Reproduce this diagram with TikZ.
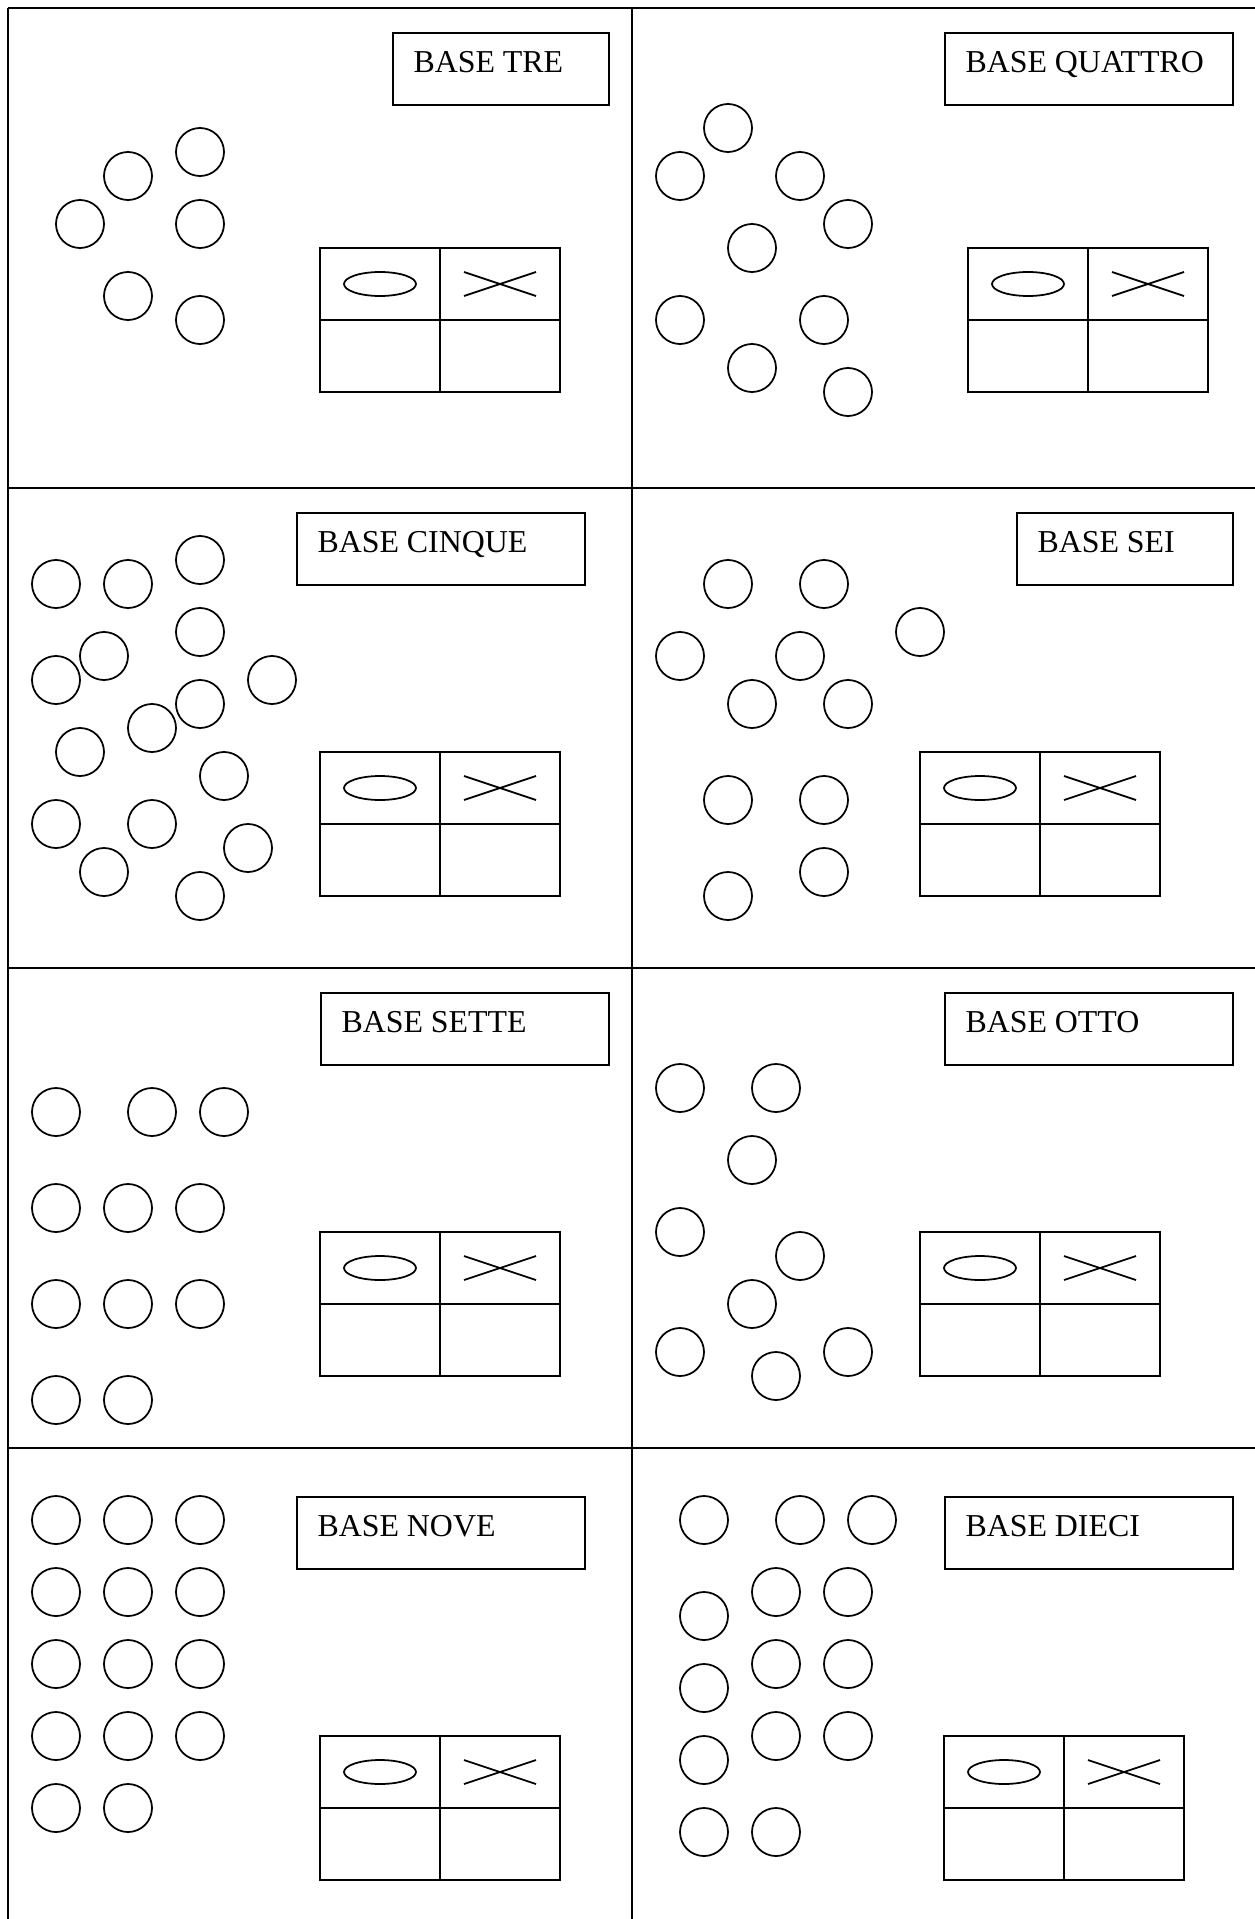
\documentclass[tikz,border=0pt]{standalone}
\usepackage{fontspec}
\setmainfont{Liberation Serif}
\usepackage{tikz}
\usetikzlibrary{positioning}
\tikzset{
    pallina/.style={draw, circle, minimum size=0.672cm, inner sep=0pt, line width=0.7pt}, % dischetto da contare
    riquadro/.style={draw, anchor=north west, minimum height=1.008cm, inner sep=0pt, line width=0.7pt},
    scritta/.style={anchor=base west, inner sep=0pt, font=\fontsize{12.7}{15}\selectfont},
    telaio/.style={line width=0.8pt},
    cella/.style={line width=0.7pt}
}

\begin{document}
\begin{tikzpicture}[x=0.336cm, y=-0.336cm]
    \useasboundingbox (-0.3333,-0.3333) rectangle (51.958,79.625);

    % tabella esterna
    \draw[telaio] (0,0) -- (52,0);
    \draw[telaio] (0,20) -- (52,20);
    \draw[telaio] (0,40) -- (52,40);
    \draw[telaio] (0,60) -- (52,60);
    \draw[telaio] (0,0) -- (0,80);
    \draw[telaio] (26,0) -- (26,80);

    % titoli
    \node (btre) [riquadro, minimum width=3.024cm] at (16,1) {};
    \node (bquattro) [riquadro, minimum width=4.032cm] at (39,1) {};
    \node (bcinque) [riquadro, minimum width=4.032cm] at (12,21) {};
    \node (bsei) [riquadro, minimum width=3.024cm] at (42,21) {};
    \node (bsette) [riquadro, minimum width=4.032cm] at (13,41) {};
    \node (botto) [riquadro, minimum width=4.032cm] at (39,41) {};
    \node (bnove) [riquadro, minimum width=4.032cm] at (12,62) {};
    \node (bdieci) [riquadro, minimum width=4.032cm] at (39,62) {};

    \node (ttre) [scritta] at (16.875,2.67) {BASE TRE};
    \node (tquattro) [scritta] at (39.875,2.67) {BASE QUATTRO};
    \node (tcinque) [scritta] at (12.875,22.67) {BASE CINQUE};
    \node (tsei) [scritta] at (42.875,22.67) {BASE SEI};
    \node (tsette) [scritta] at (13.875,42.67) {BASE SETTE};
    \node (totto) [scritta] at (39.875,42.67) {BASE OTTO};
    \node (tnove) [scritta] at (12.875,63.67) {BASE NOVE};
    \node (tdieci) [scritta] at (39.875,63.67) {BASE DIECI};

    % palline
    \foreach \x/\y [count=\i] in {5/7, 8/6, 3/9, 8/9, 5/12, 8/13}
        \node (tre\i) [pallina] at (\x,\y) {};
    \foreach \x/\y [count=\i] in {30/5, 28/7, 33/7, 35/9, 31/10, 28/13, 34/13, 31/15, 35/16}
        \node (quattro\i) [pallina] at (\x,\y) {};
    \foreach \x/\y [count=\i] in {2/24, 5/24, 8/23, 8/26, 2/28, 4/27, 11/28, 8/29, 6/30, 3/31, 9/32, 2/34, 6/34, 10/35, 4/36, 8/37}
        \node (cinque\i) [pallina] at (\x,\y) {};
    \foreach \x/\y [count=\i] in {30/24, 34/24, 38/26, 28/27, 33/27, 31/29, 35/29, 30/33, 34/33, 34/36, 30/37}
        \node (sei\i) [pallina] at (\x,\y) {};
    \foreach \x/\y [count=\i] in {2/46, 6/46, 9/46, 2/50, 5/50, 8/50, 2/54, 5/54, 8/54, 2/58, 5/58}
        \node (sette\i) [pallina] at (\x,\y) {};
    \foreach \x/\y [count=\i] in {28/45, 32/45, 31/48, 28/51, 33/52, 31/54, 28/56, 35/56, 32/57}
        \node (otto\i) [pallina] at (\x,\y) {};
    \foreach \x/\y [count=\i] in {2/63, 5/63, 8/63, 2/66, 5/66, 8/66, 2/69, 5/69, 8/69, 2/72, 5/72, 8/72, 2/75, 5/75}
        \node (nove\i) [pallina] at (\x,\y) {};
    \foreach \x/\y [count=\i] in {29/63, 33/63, 36/63, 32/66, 35/66, 29/67, 32/69, 35/69, 29/70, 32/72, 35/72, 29/73, 29/76, 32/76}
        \node (dieci\i) [pallina] at (\x,\y) {};

    % tabelline con ovale e croce
    \foreach \x/\y in {13/10, 40/10, 13/31, 38/31, 13/51, 38/51, 13/72, 39/72} {
        \draw[cella] (\x,\y) rectangle ++(10,6);
        \draw[cella] (\x+5,\y) -- ++(0,6);
        \draw[cella] (\x,\y+3) -- ++(10,0);
        \draw[cella] (\x+2.5,\y+1.5) ellipse (1.5 and 0.5);
        \draw[cella] (\x+6,\y+1) -- (\x+9,\y+2);
        \draw[cella] (\x+6,\y+2) -- (\x+9,\y+1);
    }
\end{tikzpicture}
\end{document}
